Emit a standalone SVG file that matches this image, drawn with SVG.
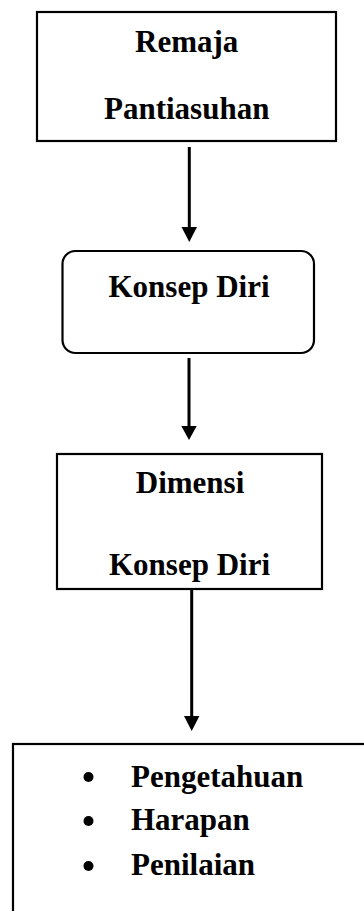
<svg xmlns="http://www.w3.org/2000/svg" width="364" height="911" viewBox="0 0 364 911">
  <style>
    .box { fill: #fff; stroke: #000; stroke-width: 2.2; }
    .lbl { font-family: "Liberation Serif", "Times New Roman", serif; font-weight: bold; font-size: 31px; fill: #000; }
    .mid { text-anchor: middle; }
    .wire { stroke: #000; stroke-width: 3; fill: none; }
    .head { fill: #000; }
  </style>
  <rect width="364" height="911" fill="#fff"/>

  <g id="connectors">
    <line class="wire" x1="189.3" y1="147" x2="189.3" y2="230"/>
    <polygon class="head" points="181.5,227 197,227 189.3,242"/>
    <line class="wire" x1="189" y1="358" x2="189" y2="428"/>
    <polygon class="head" points="181.3,426 196.7,426 189,440"/>
    <line class="wire" x1="191.7" y1="589" x2="191.7" y2="718"/>
    <polygon class="head" points="184,716 199.4,716 191.7,731"/>
  </g>

  <g id="remaja">
    <rect class="box" x="37" y="12" width="299" height="129"/>
    <text class="lbl mid" x="186.7" y="52">Remaja</text>
    <text class="lbl mid" x="186.7" y="119">Pantiasuhan</text>
  </g>

  <g id="konsep-diri">
    <rect class="box" x="62.5" y="251" width="251.5" height="102" rx="13" ry="13"/>
    <text class="lbl mid" x="189" y="297">Konsep Diri</text>
  </g>

  <g id="dimensi">
    <rect class="box" x="57" y="454" width="265" height="135"/>
    <text class="lbl mid" x="190" y="493">Dimensi</text>
    <text class="lbl mid" x="189.5" y="575">Konsep Diri</text>
  </g>

  <g id="daftar-dimensi">
    <rect class="box" x="13" y="744" width="370" height="190"/>
    <circle cx="88.5" cy="777" r="5"/>
    <circle cx="88.5" cy="821" r="5"/>
    <circle cx="88.5" cy="866" r="5"/>
    <text class="lbl" x="131" y="787">Pengetahuan</text>
    <text class="lbl" x="131" y="830">Harapan</text>
    <text class="lbl" x="131" y="875">Penilaian</text>
  </g>
</svg>
